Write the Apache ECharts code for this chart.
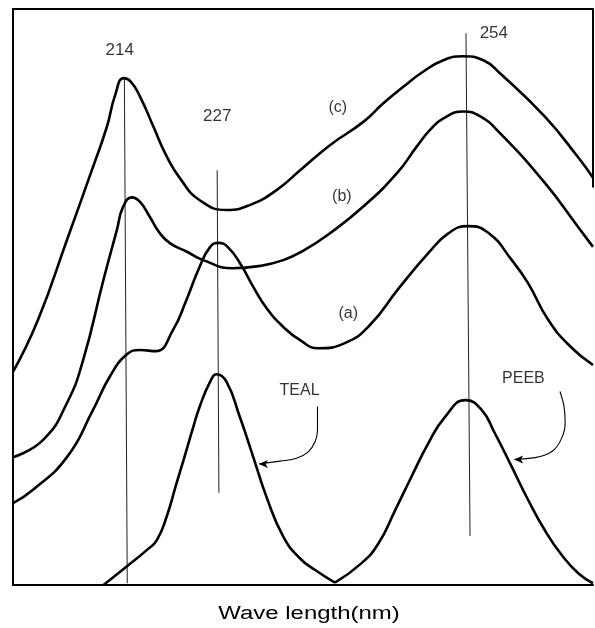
<!DOCTYPE html>
<html>
<head>
<meta charset="utf-8">
<title>UV spectra</title>
<script src="https://cdn.jsdelivr.net/npm/echarts@6/dist/echarts.min.js"></script>
<style>
  html, body { margin: 0; padding: 0; background: #ffffff; }
  #chart { width: 595px; height: 628px; }
</style>
</head>
<body>
<div id="chart"></div>
<script>
// Relative scan position (0–100 across the frame) vs. relative absorbance (0–100).
const curveA = [
  [0, 14.2], [3.4, 16.5], [9.3, 22.2], [13.8, 30.4], [16.7, 36.2], [19.6, 40.0],
  [21.9, 40.8], [24.6, 40.6], [27.6, 44.3], [29.9, 49.5], [32.2, 55.3], [34.0, 58.7],
  [35.4, 59.4], [37.0, 58.7], [39.3, 55.6], [41.4, 51.8], [43.7, 48.1], [46.6, 44.8],
  [49.5, 42.5], [52.6, 41.1], [57.2, 42.0], [61.5, 45.1], [66.5, 51.5], [71.6, 57.6],
  [75.0, 61.0], [78.4, 62.3], [82.0, 61.1], [86.0, 56.4], [88.8, 52.4], [92.3, 46.0],
  [96.0, 41.5], [100, 38.2]
];
const curveB = [
  [0, 22.2], [5.2, 25.2], [9.3, 31.6], [12.1, 39.1], [15.6, 53.0],
  [17.9, 61.6], [19.0, 65.7], [20.5, 67.3], [21.9, 66.5], [23.6, 63.9], [25.3, 61.1],
  [27.1, 59.3], [29.9, 57.9], [32.8, 56.4], [37.9, 55.0], [42.6, 55.4], [46.6, 56.4],
  [50.0, 58.0], [54.7, 61.1], [60.4, 65.7], [66.2, 71.5], [69.6, 76.1], [71.9, 79.0],
  [74.2, 81.0], [77.6, 82.2], [80.5, 81.4], [84.0, 78.4], [91.7, 69.8], [97.4, 62.2],
  [100, 58.7]
];
const curveC = [
  [0, 37.0], [4.3, 46.0], [9.3, 59.9], [13.8, 72.6], [16.2, 79.6], [17.6, 85.0],
  [19.1, 88.0], [20.3, 87.4], [21.9, 84.8], [24.2, 79.6], [26.5, 74.4], [28.8, 70.6],
  [32.2, 66.8], [36.9, 65.1], [40.9, 66.0], [45.5, 68.6], [49.5, 72.0], [54.7, 76.4],
  [60.4, 80.4], [63.8, 83.6], [67.3, 86.5], [70.7, 89.1], [74.2, 91.1], [77.6, 91.8],
  [81.1, 91.1], [84.0, 88.8], [91.7, 81.3], [97.4, 74.3], [100, 70.7]
];
// Spectra of the two pure compounds: TEAL band and PEEB band
const tealBand = [
  [15.6, 0], [19.6, 3.2], [23.1, 6.1], [24.8, 7.8], [26.5, 11.9], [28.2, 17.7],
  [29.4, 21.7], [31.1, 27.5], [32.2, 31.0], [34.0, 35.3], [35.1, 36.6], [36.8, 35.3],
  [39.1, 29.2], [41.4, 22.3], [43.7, 15.3], [46.6, 8.4], [49.5, 4.6], [52.1, 2.6],
  [55.5, 0.4]
];
const peebBand = [
  [55.5, 0.4], [60.1, 3.8], [63.0, 7.2], [65.9, 13.0], [68.7, 18.8], [71.6, 24.6],
  [74.5, 29.2], [78.0, 32.1], [80.8, 30.4], [83.1, 26.3], [86.0, 20.5], [88.8, 14.8],
  [91.7, 9.5], [94.6, 5.2], [97.5, 2.0], [100, 0.3]
];

// Wavelength marker lines
const markerNames = ['214', '227', '254'];
const markerXTop = [19.2, 35.2, 78.1];
const markerXBottom = [19.7, 35.5, 78.8];
const markerYTop = [88.2, 72.0, 95.8];
const markerYBottom = [0.3, 16.0, 8.5];
const markerLabelPos = [[18.4, 92.9], [35.2, 81.3], [82.9, 95.8]];

// Curve tags and compound names
const tagNames = ['(c)', '(b)', '(a)', 'TEAL', 'PEEB'];
const tagPos = [[56.0, 82.8], [56.7, 67.4], [57.8, 47.1], [49.4, 33.7], [88.0, 35.9]];

// Pointer arrows from the compound names to their bands
const tealArrow = [[52.5, 31.0], [52.5, 26.9], [52.1, 24.9], [50.9, 23.1], [48.9, 22.0], [46.0, 21.5], [43.7, 21.2], [42.4, 21.0]];
const peebArrow = [[94.3, 33.6], [95.0, 31.0], [95.2, 28.1], [94.6, 25.5], [93.2, 23.4], [90.9, 22.3], [88.0, 21.9], [86.4, 21.8]];

// Right frame edge (only the upper part is drawn)
const frameRight = [[100, 100], [100, 69]];

const FONT = '"Liberation Sans", Arial, sans-serif';

function spectrum(name, data) {
  return {
    name, type: 'line', data, smooth: 0.5, symbol: 'none',
    lineStyle: { color: '#000', width: 2.6 }, z: 3
  };
}

function arrow(name, pts) {
  const data = pts.map((p, i) => i === pts.length - 1
    ? { value: p, symbol: 'arrow', symbolSize: [6, 9], symbolRotate: 90 }
    : { value: p, symbol: 'none' });
  return {
    name, type: 'line', data, smooth: 0.4, showSymbol: true, clip: false,
    lineStyle: { color: '#000', width: 1.1 },
    itemStyle: { color: '#000' }, z: 4
  };
}

const markerSeries = markerNames.map((n, i) => ({
  name: 'marker ' + n, type: 'line', symbol: 'none',
  data: [[markerXTop[i], markerYTop[i]], [markerXBottom[i], markerYBottom[i]]],
  lineStyle: { color: '#222', width: 1 }, z: 2
}));

const labelPoints = markerNames.map((n, i) => ({ name: n, value: markerLabelPos[i], label: { fontSize: 17 } }))
  .concat(tagNames.map((n, i) => ({ name: n, value: tagPos[i], label: { fontSize: 16 } })));

const axisLineStyle = { show: true, onZero: false, lineStyle: { color: '#000', width: 2 } };
const plainAxis = {
  type: 'value', min: 0, max: 100,
  axisLine: axisLineStyle, axisTick: { show: false }, axisLabel: { show: false }, splitLine: { show: false }
};

const chart = echarts.init(document.getElementById('chart'), null, { renderer: 'canvas' });
chart.setOption({
  animation: false,
  backgroundColor: '#ffffff',
  grid: { left: 13, right: 2, top: 9, bottom: 43 },
  xAxis: [
    Object.assign({ position: 'bottom' }, plainAxis),
    Object.assign({ position: 'top' }, plainAxis)
  ],
  yAxis: [Object.assign({ position: 'left' }, plainAxis)],
  graphic: [{
    type: 'text', x: 309, y: 614, scaleX: 1.33,
    style: { text: 'Wave length(nm)', font: '18px ' + FONT, fill: '#000', align: 'center', verticalAlign: 'middle' }
  }],
  series: [
    spectrum('(c)', curveC),
    spectrum('(b)', curveB),
    spectrum('(a)', curveA),
    spectrum('TEAL', tealBand),
    spectrum('PEEB', peebBand),
    ...markerSeries,
    arrow('TEAL pointer', tealArrow),
    arrow('PEEB pointer', peebArrow),
    {
      name: 'frame', type: 'line', symbol: 'none', data: frameRight, clip: false,
      lineStyle: { color: '#000', width: 2 }, z: 1
    },
    {
      name: 'labels', type: 'scatter', data: labelPoints, symbolSize: 0, clip: false,
      label: {
        show: true, position: 'inside', formatter: '{b}', color: '#000', fontFamily: FONT
      },
      z: 5
    }
  ]
});
</script>
</body>
</html>
